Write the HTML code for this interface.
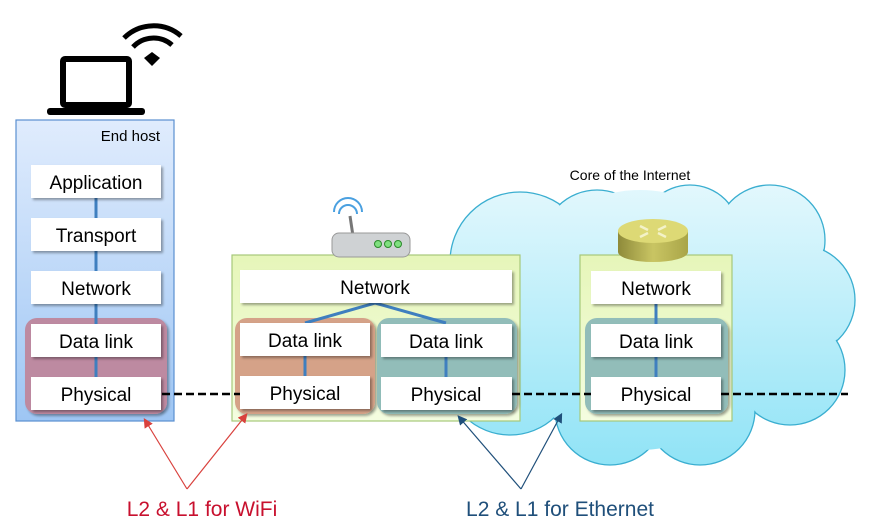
<!DOCTYPE html>
<html><head><meta charset="utf-8"><style>
body{margin:0;background:#fff;}
svg{display:block;font-family:"Liberation Sans","DejaVu Sans",sans-serif;}
</style></head><body>
<svg width="873" height="531" viewBox="0 0 873 531" xmlns="http://www.w3.org/2000/svg">
<defs>
<linearGradient id="cg" gradientUnits="userSpaceOnUse" x1="0" y1="180" x2="0" y2="470"><stop offset="0" stop-color="#e4f8fd"/><stop offset="1" stop-color="#8fe3f6"/></linearGradient>
<linearGradient id="hg" x1="0" y1="0" x2="0" y2="1"><stop offset="0" stop-color="#e0ecfd"/><stop offset="1" stop-color="#9ec6f4"/></linearGradient>
<linearGradient id="rg" x1="0" y1="0" x2="0" y2="1"><stop offset="0" stop-color="#e6f6b9"/><stop offset="1" stop-color="#f4fde0"/></linearGradient>
<linearGradient id="yg" x1="0" y1="0" x2="1" y2="0"><stop offset="0" stop-color="#8e8a3a"/><stop offset="0.5" stop-color="#c9c563"/><stop offset="1" stop-color="#a9a548"/></linearGradient>
<filter id="sh" x="-10%" y="-10%" width="130%" height="140%"><feDropShadow dx="2" dy="2" stdDeviation="1.2" flood-color="#000" flood-opacity="0.35"/></filter>
<marker id="ar" markerWidth="8" markerHeight="8" refX="6" refY="4" orient="auto"><path d="M0,0 L8,4 L0,8 z" fill="#d9413d"/></marker>
<marker id="ab" markerWidth="8" markerHeight="8" refX="6" refY="4" orient="auto"><path d="M0,0 L8,4 L0,8 z" fill="#1f4f7a"/></marker>
</defs>

<!-- cloud -->
<g stroke="#3aaed0" stroke-width="1.3" fill="url(#cg)">
<circle cx="520" cy="262" r="70"/><circle cx="505" cy="310" r="65"/><circle cx="597" cy="245" r="55"/><circle cx="690" cy="235" r="50"/>
<circle cx="770" cy="240" r="55"/><circle cx="800" cy="300" r="55"/><circle cx="790" cy="370" r="55"/>
<circle cx="700" cy="410" r="55"/><circle cx="610" cy="410" r="55"/><circle cx="510" cy="370" r="65"/>
</g>
<g fill="url(#cg)">
<circle cx="520" cy="262" r="69"/><circle cx="505" cy="310" r="64"/><circle cx="597" cy="245" r="54"/><circle cx="690" cy="235" r="49"/>
<circle cx="770" cy="240" r="54"/><circle cx="800" cy="300" r="54"/><circle cx="790" cy="370" r="54"/>
<circle cx="700" cy="410" r="54"/><circle cx="610" cy="410" r="54"/><circle cx="510" cy="370" r="64"/>
<circle cx="640" cy="320" r="130"/>
</g>
<text x="630" y="180" font-size="14" text-anchor="middle" fill="#000">Core of the Internet</text>

<!-- laptop + wifi -->
<rect x="63" y="59" width="66" height="46" rx="2" fill="none" stroke="#000" stroke-width="6"/>
<rect x="47" y="108" width="98" height="7" rx="3" fill="#000"/>
<g fill="none" stroke="#000" stroke-width="5">
<path d="M124,38 A42,42 0 0 1 181,36"/><path d="M133,47 A28,28 0 0 1 172,45"/>
</g>
<path d="M144,58 L152,52 L160,58 L152,66 z" fill="#000"/>

<!-- end host -->
<rect x="16" y="120" width="158" height="301" fill="url(#hg)" stroke="#5a8fd0" stroke-width="1.2"/>
<text x="160" y="141" font-size="15" text-anchor="end">End host</text>
<rect x="25" y="318" width="142" height="96" rx="12" fill="#bd8aa1" filter="url(#sh)"/>
<g stroke="#3f7fbf" stroke-width="3"><line x1="96" y1="198" x2="96" y2="380"/></g>
<g fill="#fff" filter="url(#sh)">
<rect x="31" y="165" width="130" height="33"/><rect x="31" y="218" width="130" height="33"/>
<rect x="31" y="271" width="130" height="33"/><rect x="31" y="324" width="130" height="33"/>
<rect x="31" y="377" width="130" height="33"/>
</g>
<g font-size="19" text-anchor="middle">
<text x="96" y="189">Application</text><text x="96" y="242">Transport</text><text x="96" y="295">Network</text>
<text x="96" y="348">Data link</text><text x="96" y="401">Physical</text>
</g>

<!-- wifi router box -->
<rect x="232" y="255" width="288" height="166" fill="url(#rg)" stroke="#a6c97a" stroke-width="1.2"/>
<path d="M334,212 A14,14 0 0 1 362,212" fill="none" stroke="#4aa0e0" stroke-width="2"/>
<path d="M339,214 A9,9 0 0 1 357,214" fill="none" stroke="#4aa0e0" stroke-width="2"/>
<line x1="350" y1="216" x2="353" y2="236" stroke="#777" stroke-width="3"/>
<rect x="332" y="233" width="78" height="24" rx="7" fill="#cfd2d4" stroke="#999"/>
<circle cx="378" cy="244" r="3.5" fill="#7fe07f" stroke="#2a8a2a"/><circle cx="388" cy="244" r="3.5" fill="#7fe07f" stroke="#2a8a2a"/><circle cx="398" cy="244" r="3.5" fill="#7fe07f" stroke="#2a8a2a"/>
<rect x="235" y="318" width="140" height="96" rx="12" fill="#d5a288" filter="url(#sh)"/>
<rect x="377" y="318" width="140" height="96" rx="12" fill="#92bdb9" filter="url(#sh)"/>
<g stroke="#3f7fbf" stroke-width="3" fill="none">
<polyline points="305,323 375,303 446,323"/>
<line x1="305" y1="356" x2="305" y2="378"/><line x1="446" y1="356" x2="446" y2="378"/>
</g>
<g fill="#fff" filter="url(#sh)">
<rect x="240" y="270" width="272" height="33"/>
<rect x="240" y="323" width="130" height="33"/><rect x="240" y="376" width="130" height="33"/>
<rect x="381" y="324" width="131" height="33"/><rect x="381" y="377" width="131" height="33"/>
</g>
<g font-size="19" text-anchor="middle">
<text x="375" y="294">Network</text>
<text x="305" y="347">Data link</text><text x="305" y="400">Physical</text>
<text x="446" y="348">Data link</text><text x="446" y="401">Physical</text>
</g>

<!-- core router -->
<rect x="580" y="255" width="152" height="166" fill="url(#rg)" stroke="#a6c97a" stroke-width="1.2"/>
<path d="M618,231 L618,252 A35,10 0 0 0 688,252 L688,231 z" fill="url(#yg)"/>
<ellipse cx="653" cy="231" rx="35" ry="12" fill="#ddd975"/>
<g stroke="#f3f2c8" stroke-width="2.5"><line x1="640" y1="226" x2="648" y2="230"/><line x1="666" y1="226" x2="658" y2="230"/><line x1="640" y1="237" x2="648" y2="233"/><line x1="666" y1="237" x2="658" y2="233"/></g>
<rect x="585" y="318" width="143" height="96" rx="12" fill="#92bdb9" filter="url(#sh)"/>
<g stroke="#3f7fbf" stroke-width="3"><line x1="656" y1="304" x2="656" y2="380"/></g>
<g fill="#fff" filter="url(#sh)">
<rect x="591" y="271" width="130" height="33"/><rect x="591" y="324" width="130" height="33"/><rect x="591" y="377" width="130" height="33"/>
</g>
<g font-size="19" text-anchor="middle">
<text x="656" y="295">Network</text><text x="656" y="348">Data link</text><text x="656" y="401">Physical</text>
</g>

<!-- dashed links -->
<g stroke="#000" stroke-width="2.5" stroke-dasharray="8,4">
<line x1="162" y1="394" x2="240" y2="394"/><line x1="512" y1="394" x2="591" y2="394"/><line x1="721" y1="394" x2="848" y2="394"/>
</g>

<!-- arrows -->
<g stroke="#d9413d" stroke-width="1.2" fill="none">
<line x1="187" y1="489" x2="145" y2="420" marker-end="url(#ar)"/>
<line x1="187" y1="489" x2="246" y2="415" marker-end="url(#ar)"/>
</g>
<g stroke="#1f4f7a" stroke-width="1.2" fill="none">
<line x1="521" y1="489" x2="459" y2="417" marker-end="url(#ab)"/>
<line x1="521" y1="489" x2="561" y2="415" marker-end="url(#ab)"/>
</g>
<text x="202" y="516" font-size="21" text-anchor="middle" fill="#c8102e">L2 &amp; L1 for WiFi</text>
<text x="560" y="516" font-size="21" text-anchor="middle" fill="#1f4f7a">L2 &amp; L1 for Ethernet</text>
</svg>
</body></html>
